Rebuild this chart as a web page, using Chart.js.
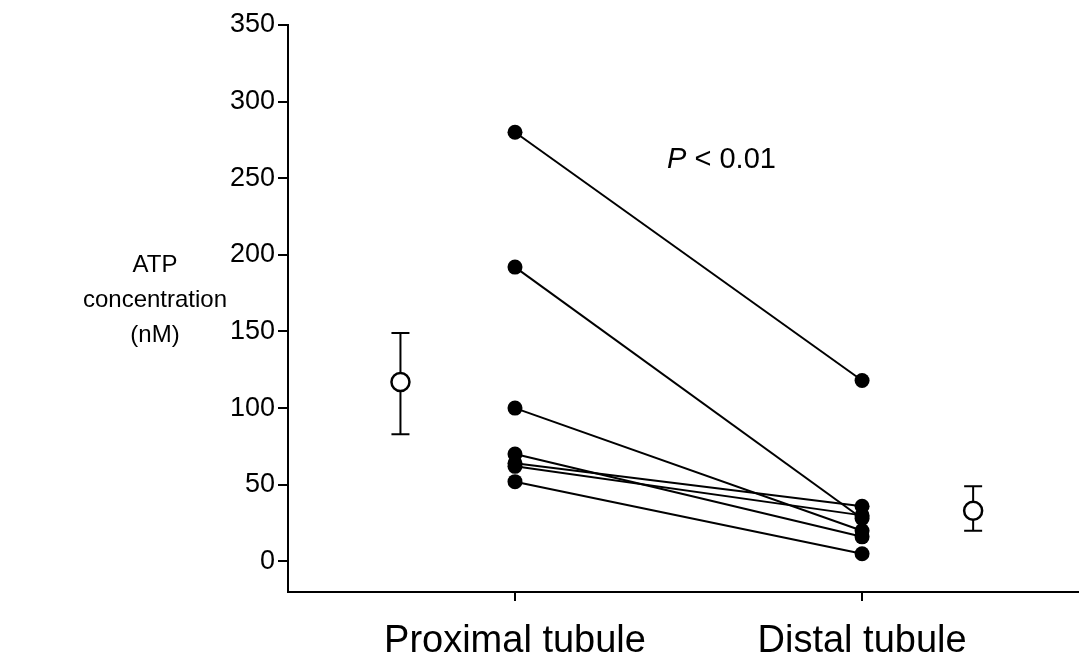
<!DOCTYPE html>
<html>
<head>
<meta charset="utf-8">
<script src="https://cdn.jsdelivr.net/npm/chart.js@4/dist/chart.umd.min.js"></script>
<style>
  html, body { margin: 0; padding: 0; background: #fff; }
  #wrap { width: 1079px; height: 654px; }
</style>
</head>
<body>
<div id="wrap"><canvas id="atpChart"></canvas></div>
<script>
// Paired ATP values (nM), one entry per tubule pair
const proximal = [280, 192, 100, 70, 64, 62, 52];
const distal = [118, 28, 20, 16, 36, 30, 5];

// Group means with error bars (nM)
const meanLabels = ['Proximal tubule', 'Distal tubule'];
const meanValues = [117, 33];
const errLow = [83, 20];
const errHigh = [149, 49];
const meanX = [0.67, 2.32];

const yTicks = [0, 50, 100, 150, 200, 250, 300, 350];
const xTicks = [1, 2];
const xTickLabels = ['Proximal tubule', 'Distal tubule'];
const pText = { x: 1.595, y: 262 };

const font = '"Liberation Sans", Arial, sans-serif';

// one line dataset per pair
const pairSets = proximal.map(function(p, i) {
    return {
        type: 'line',
        data: [{ x: 1, y: p }, { x: 2, y: distal[i] }],
        borderColor: '#000',
        borderWidth: 2,
        pointRadius: 7.5,
        pointBackgroundColor: '#000',
        pointBorderColor: '#000',
        pointBorderWidth: 0
    };
});

const meanSet = {
    type: 'scatter',
    data: meanValues.map((v, i) => ({ x: meanX[i], y: v })),
    pointRadius: 9,
    pointBackgroundColor: '#fff',
    pointBorderColor: '#000',
    pointBorderWidth: 2.5
};

// Draw error bars, the y axis title and the P value
const annotations = {
    id: 'annotations',
    beforeDatasetsDraw(chart) {
        const ctx = chart.ctx;
        const xs = chart.scales.x, ys = chart.scales.y;
        ctx.save();
        ctx.strokeStyle = '#000';
        ctx.lineWidth = 2;
        meanValues.forEach(function(v, i) {
            const px = xs.getPixelForValue(meanX[i]);
            const top = ys.getPixelForValue(errHigh[i]);
            const bot = ys.getPixelForValue(errLow[i]);
            ctx.beginPath();
            ctx.moveTo(px, top); ctx.lineTo(px, bot);
            ctx.moveTo(px - 9, top); ctx.lineTo(px + 9, top);
            ctx.moveTo(px - 9, bot); ctx.lineTo(px + 9, bot);
            ctx.stroke();
        });
        ctx.restore();
    },
    afterDraw(chart) {
        const ctx = chart.ctx;
        const xs = chart.scales.x, ys = chart.scales.y;
        ctx.save();
        ctx.fillStyle = '#000';
        ctx.textAlign = 'center';
        ctx.textBaseline = 'middle';
        ctx.font = '24px ' + font;
        ['ATP', 'concentration', '(nM)'].forEach(function(t, i) {
            ctx.fillText(t, 155, 265 + i * 35);
        });
        // P < 0.01 with italic P
        const cx = xs.getPixelForValue(pText.x);
        const cy = ys.getPixelForValue(pText.y);
        ctx.font = 'italic 29px ' + font;
        const w1 = ctx.measureText('P').width;
        ctx.font = '29px ' + font;
        const w2 = ctx.measureText(' < 0.01').width;
        const start = cx - (w1 + w2) / 2;
        ctx.textAlign = 'left';
        ctx.font = 'italic 29px ' + font;
        ctx.fillText('P', start, cy);
        ctx.font = '29px ' + font;
        ctx.fillText(' < 0.01', start + w1, cy);
        ctx.restore();
    }
};

new Chart(document.getElementById('atpChart'), {
    data: { datasets: pairSets.concat([meanSet]) },
    options: {
        responsive: true,
        maintainAspectRatio: false,
        animation: false,
        layout: { autoPadding: false, padding: { top: 25, right: 0, left: 0, bottom: 0 } },
        plugins: {
            legend: { display: false },
            tooltip: { enabled: false }
        },
        scales: {
            x: {
                type: 'linear',
                min: 0.346,
                max: 2.625,
                afterBuildTicks: function(scale) {
                    scale.ticks = xTicks.map(v => ({ value: v }));
                },
                afterFit: function(scale) { scale.height = 62; },
                border: { color: '#000', width: 2 },
                grid: { drawOnChartArea: false, drawTicks: true, tickLength: 9, color: '#000', lineWidth: 2 },
                ticks: {
                    color: '#000',
                    padding: 18,
                    font: { family: font, size: 38 },
                    maxRotation: 0,
                    callback: function(v) { return xTickLabels[xTicks.indexOf(v)]; }
                }
            },
            y: {
                type: 'linear',
                min: -20,
                max: 350,
                afterBuildTicks: function(scale) {
                    scale.ticks = yTicks.map(v => ({ value: v }));
                },
                afterFit: function(scale) { scale.width = 288; },
                border: { color: '#000', width: 2 },
                grid: { drawOnChartArea: false, drawTicks: true, tickLength: 10, color: '#000', lineWidth: 2 },
                ticks: {
                    color: '#000',
                    padding: 3,
                    font: { family: font, size: 27 }
                }
            }
        }
    },
    plugins: [annotations]
});
</script>
</body>
</html>
